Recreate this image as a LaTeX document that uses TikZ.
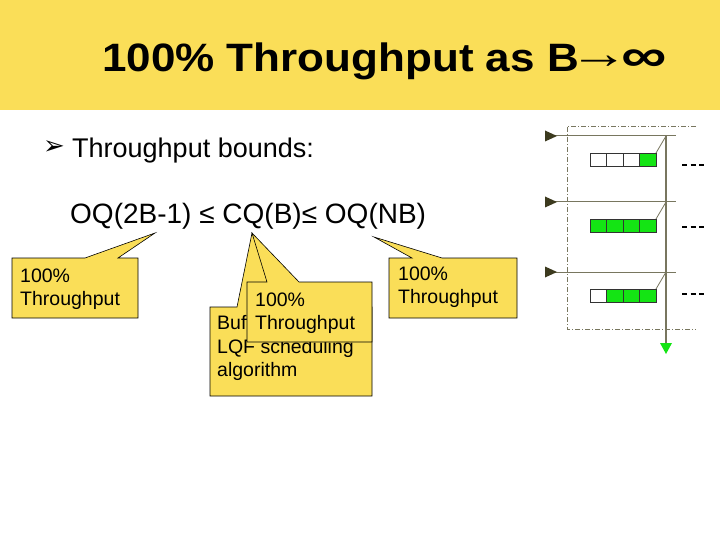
\documentclass[tikz,border=0pt]{standalone}
\usepackage{fontspec}
\setmainfont{Liberation Sans}
\newfontfamily\dejavu{DejaVu Sans}
\usetikzlibrary{arrows.meta}
\definecolor{ppyellow}{RGB}{250,222,88}
\definecolor{qgreen}{RGB}{20,228,20}
\definecolor{lineol}{RGB}{120,118,95}
\definecolor{tipol}{RGB}{60,58,30}
\tikzset{
  callout/.style={fill=ppyellow,draw=black,line width=0.6pt,line join=miter},
  ctext/.style={anchor=base west,inner sep=0pt,font=\fontsize{19.5}{23}\selectfont},
  body/.style={anchor=base west,inner sep=0pt,font=\fontsize{28}{32}\selectfont},
  cell/.style={draw=black!80,line width=0.6pt},
  inline/.style={draw=lineol,line width=1pt},
}
\begin{document}
\begin{tikzpicture}[x=1pt,y=-1pt]
\useasboundingbox (0,0) rectangle (720,540);
\fill[white] (0,0) rectangle (720,540);
\fill[ppyellow] (0,0) rectangle (720,110);
\node[anchor=base west,inner sep=0pt,font=\fontsize{44}{48}\selectfont\bfseries] (title) at (102,72)
  {\scalebox{1}[0.9]{100\% Throughput as B}\kern-9pt\raisebox{3pt}{\mdseries\scalebox{1.35}[1]{→}}\kern-8pt\raisebox{0pt}{\scalebox{1.45}[1.05]{∞}}};
\node[anchor=base west,inner sep=0pt,font=\dejavu\fontsize{26}{28}\selectfont] (bullet) at (43,155) {➢};
\node[body,font=\fontsize{27}{32}\selectfont] (bounds) at (72,158) {Throughput bounds:};
\node[body] (ineq) at (70,224) {OQ(2B-1) ≤ CQ(B)≤ OQ(NB)};
% callout 1
\draw[callout] (12,258) -- (85,258) -- (155,233) -- (118,258) -- (138,258) -- (138,318) -- (12,318) -- cycle;
\node[ctext] (c1a) at (20,282) {100\%};
\node[ctext] (c1b) at (20,305) {Throughput};
% callout 2 (back)
\draw[callout] (210,307) -- (237,307) -- (252,233) -- (285,307) -- (372,307) -- (372,396) -- (210,396) -- cycle;
\node[ctext] (c2a) at (217,329) {Buffer};
\node[ctext] (c2b) at (217,353) {LQF scheduling};
\node[ctext] (c2c) at (217,376) {algorithm};
% callout 3 (front)
\draw[callout] (247,282) -- (267,282) -- (252,233) -- (299,282) -- (372,282) -- (372,342) -- (247,342) -- cycle;
\node[ctext] (c3a) at (255,306) {100\%};
\node[ctext] (c3b) at (255,329) {Throughput};
% callout 4
\draw[callout] (389,258) -- (412,258) -- (374,237) -- (442,258) -- (517,258) -- (517,318) -- (389,318) -- cycle;
\node[ctext] (c4a) at (398,280) {100\%};
\node[ctext] (c4b) at (398,303) {Throughput};
% switch diagram
\draw[lineol,line width=0.8pt,dash pattern=on 5pt off 2pt on 1pt off 2pt] (696,126) -- (567,126) -- (567,329) -- (696,329);
\foreach \y/\qy in {136/153,202/219,272/289}{
  \draw[inline] (545,\y) -- (676,\y);
  \fill[tipol] (545,\y-5.5) -- (557,\y) -- (545,\y+5.5) -- cycle;
  \draw[inline,line width=0.8pt] (656,\qy) -- (666,\y);
}
\draw[inline,line width=1.2pt] (666,136) -- (666,345);
\fill[qgreen] (660,343) -- (672,343) -- (666,354) -- cycle;
% queues
\foreach \i in {0,1,2}{\draw[cell,fill=white] (590+16.5*\i,153) rectangle ++(16.5,13.5);}
\draw[cell,fill=qgreen] (639.5,153) rectangle ++(16.5,13.5);
\foreach \i in {0,1,2,3}{\draw[cell,fill=qgreen] (590+16.5*\i,219) rectangle ++(16.5,13.5);}
\draw[cell,fill=white] (590,289) rectangle ++(16.5,13.5);
\foreach \i in {1,2,3}{\draw[cell,fill=qgreen] (590+16.5*\i,289) rectangle ++(16.5,13.5);}
\foreach \y in {165,227,294}{
  \draw[black,line width=1.6pt,dash pattern=on 5pt off 3.5pt] (682,\y) -- (704,\y);
}
\end{tikzpicture}
\end{document}
